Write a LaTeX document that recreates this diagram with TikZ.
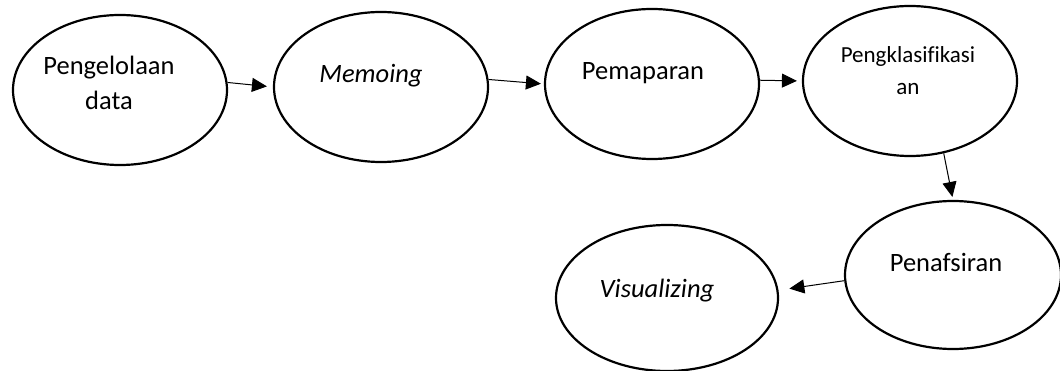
\documentclass[tikz,border=0pt]{standalone}
\usepackage{fontspec}
\setmainfont[Ligatures=NoCommon]{Carlito}
\usetikzlibrary{shapes.geometric,arrows.meta}
\begin{document}
\begin{tikzpicture}[x=1pt,y=-1pt,
  oval/.style={draw=black,line width=2.2pt,ellipse,inner sep=0pt,minimum width=214pt,minimum height=150pt},
  lbl/.style={anchor=base,inner sep=0pt,align=center,font=\fontsize{26.5}{35}\selectfont},
  lbls/.style={anchor=base,inner sep=0pt,align=center,font=\fontsize{23}{32}\selectfont},
  conn/.style={line width=1pt,-{Triangle[length=15pt,width=14pt]}}]
\useasboundingbox (0,0) rectangle (1060,371);
\node[oval] (e1) at (120,90) {};
\node[oval] (e2) at (381,87) {};
\node[oval] (e3) at (652,84) {};
\node[oval] (e4) at (910,81) {};
\node[oval,minimum width=216pt,minimum height=148pt] (e5) at (953,275) {};
\node[oval,minimum width=222pt,minimum height=146pt] (e6) at (667,298) {};
\node[lbl] (t1) at (109,110) {Pengelolaan\\data};
\node[lbl] (t2) at (371,83) {\itshape Memoing};
\node[lbl] (t3) at (643,80) {Pemaparan};
\node[lbls] (t4) at (908,95) {Pengklasifikasi\\an};
\node[lbl] (t5) at (946,272) {Penafsiran};
\node[lbl] (t6) at (657,298) {\itshape Visualizing};
\draw[conn,shorten >=6pt] (e1.4) -- (e2.180);
\draw[conn,shorten >=3pt] (e2.4) -- (e3.180);
\draw[conn,shorten >=5pt] (e3.2) -- (e4.180);
\draw[conn,shorten >=3pt] (e4.-65) -- (e5.north);
\draw[conn,shorten >=11pt] (e5.183) -- (e6.4);
\end{tikzpicture}
\end{document}
